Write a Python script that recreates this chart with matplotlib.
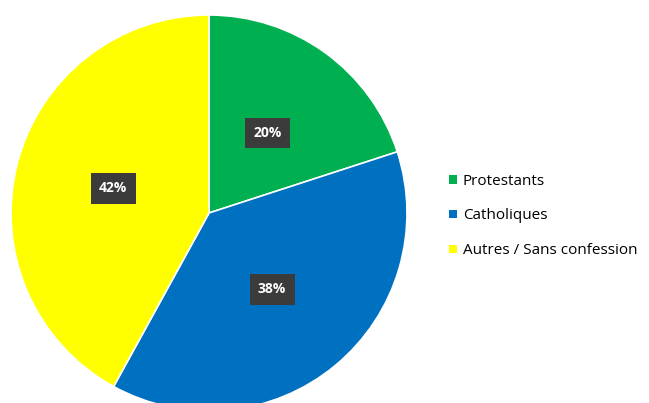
import matplotlib
matplotlib.use("Agg")
import matplotlib.pyplot as plt
from matplotlib.patches import Patch

labels = ["Protestants", "Catholiques", "Autres / Sans confession"]
values = [20, 38, 42]
colors = ["#00B050", "#0070C0", "#FFFF00"]

plt.rcParams["font.family"] = ["Open Sans", "DejaVu Sans"]

W, H = 649, 403
fig = plt.figure(figsize=(W / 100, H / 100), dpi=100, facecolor="white")
cx, cy, r = 209, 213, 198
ax = fig.add_axes([(cx - r) / W, (H - cy - r) / H, 2 * r / W, 2 * r / H])

wedges, texts, autotexts = ax.pie(
    values,
    colors=colors,
    startangle=90,
    counterclock=False,
    autopct="%d%%",
    pctdistance=0.5,
    radius=1.0,
    wedgeprops=dict(edgecolor="white", linewidth=1.2),
)
for t in autotexts:
    t.set_color("white")
    t.set_fontweight("bold")
    t.set_fontsize(10)
    t.set_bbox(dict(boxstyle="square,pad=0.6", facecolor="#3B3B3B", edgecolor="none"))
ax.set_xlim(-1.0, 1.0)
ax.set_ylim(-1.0, 1.0)
ax.set_aspect("equal")
ax.axis("off")

handles = [Patch(facecolor=c, edgecolor="none") for c in colors]
fig.legend(
    handles, labels,
    loc="center left",
    bbox_to_anchor=(449 / W, 1 - 216 / H),
    frameon=False,
    fontsize=11,
    handlelength=0.5,
    handleheight=0.5,
    handletextpad=0.4,
    labelspacing=1.3,
    borderaxespad=0,
    borderpad=0,
)

fig.savefig("out.png", dpi=100, facecolor="white")
